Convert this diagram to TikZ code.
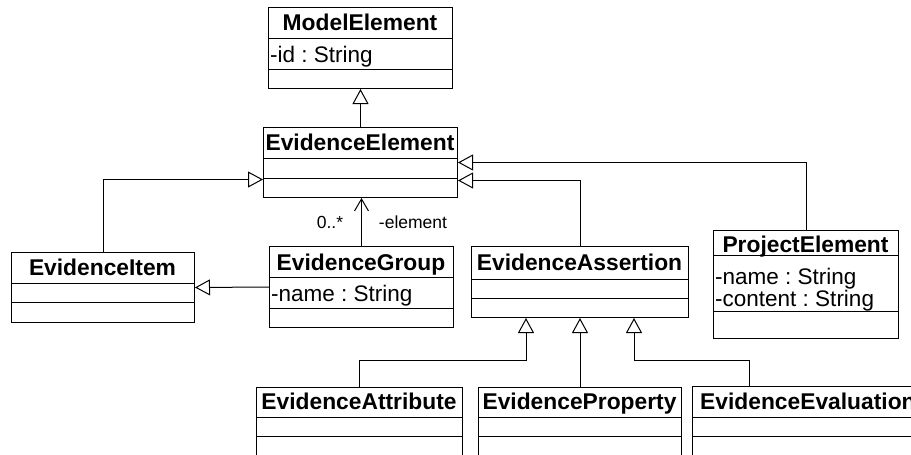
\documentclass[tikz,border=0pt]{standalone}
\usepackage{fontspec}
\setmainfont{Liberation Sans}
\usetikzlibrary{arrows.meta}
\frenchspacing
\begin{document}
\begin{tikzpicture}[x=1pt,y=-1pt,
  cls/.style={draw, line width=1pt, inner sep=0pt, anchor=north west},
  divl/.style={line width=1pt},
  ttl/.style={font=\fontsize{22.8}{27}\selectfont\bfseries, anchor=base, inner sep=0pt},
  att/.style={font=\fontsize{22.5}{27}\selectfont, anchor=base west, inner sep=0pt},
  lbl/.style={font=\fontsize{17.5}{21}\selectfont, anchor=base, inner sep=0pt},
  gen/.style={draw, line width=1pt, -{Triangle[open,length=15pt,width=16pt]}},
  assoc/.style={draw, line width=1pt, -{Straight Barb[length=12pt,width=14pt]}},
]
\useasboundingbox (0,0) rectangle (911,455);
\fill[white] (0,0) rectangle (911,455);
\clip (0,0) rectangle (911,455);

% ModelElement
\node[cls, minimum width=184pt, minimum height=81pt] (ME) at (268,7) {};
\draw[divl] (268,38) -- (452,38) (268,69) -- (452,69);
\node[ttl] (MEt) at (360,30.5) {ModelElement};
\node[att] (MEa) at (270,62.5) {-id : String};

% EvidenceElement
\node[cls, minimum width=194pt, minimum height=70pt] (EE) at (263,127) {};
\draw[divl] (263,158) -- (457,158) (263,178) -- (457,178);
\node[ttl] (EEt) at (360,150.5) {EvidenceElement};

% EvidenceItem
\node[cls, minimum width=183pt, minimum height=70pt] (EI) at (11,252) {};
\draw[divl] (11,283) -- (194,283) (11,302) -- (194,302);
\node[ttl] (EIt) at (102.5,275.5) {EvidenceItem};

% EvidenceGroup
\node[cls, minimum width=184pt, minimum height=81pt] (EG) at (269,246) {};
\draw[divl] (269,277) -- (453,277) (269,308) -- (453,308);
\node[ttl] (EGt) at (361,270) {EvidenceGroup};
\node[att] (EGa) at (271,301) {-name : String};

% EvidenceAssertion
\node[cls, minimum width=217pt, minimum height=71pt] (EA) at (471,246) {};
\draw[divl] (471,279) -- (688,279) (471,298) -- (688,298);
\node[ttl] (EAt0) at (579.5,270) {EvidenceAssertion};

% ProjectElement
\node[cls, minimum width=185pt, minimum height=108pt] (PE) at (713,230) {};
\draw[divl] (713,255) -- (898,255) (713,311) -- (898,311);
\node[ttl] (PEt) at (805.5,252) {ProjectElement};
\node[att] (PEa) at (715,284.5) {-name : String};
\node[att] (PEb) at (715,306) {-content : String};

% EvidenceAttribute
\node[cls, minimum width=206pt, minimum height=80pt] (EAt) at (256,387) {};
\draw[divl] (256,417) -- (462,417) (256,436) -- (462,436);
\node[ttl] (EAtt) at (359,409) {EvidenceAttribute};

% EvidenceProperty
\node[cls, minimum width=203pt, minimum height=80pt] (EP) at (478,387) {};
\draw[divl] (478,417) -- (681,417) (478,436) -- (681,436);
\node[ttl] (EPt) at (579.5,409) {EvidenceProperty};

% EvidenceEvaluation
\node[cls, minimum width=228pt, minimum height=80pt] (EEv) at (692,386) {};
\draw[divl] (692,417) -- (920,417) (692,436) -- (920,436);
\node[ttl, anchor=base west] (EEvt) at (700,409) {EvidenceEvaluation};

% connectors
\draw[gen] (EE.north) -- (ME.south);
\draw[gen] (EI.north) |- ([yshift=-17pt]EE.west);
\draw[gen] (PE.north) |- (EE.east);
\draw[gen] (EA.north) |- ([yshift=-18pt]EE.east);
\draw[assoc] (EG.north) -- (EG.north|-EE.south);
\draw[gen] (EG.west) -- (EI.east);
\draw[gen] (EAt.north) -- ++(0,-27) -| ([xshift=-54pt]EA.south);
\draw[gen] (EP.north) -- (EA.south);
\draw[gen] ([xshift=57pt]EEv.north west) -- ++(0,-26) -| ([xshift=54pt]EA.south);

% association labels
\node[lbl] (mult) at (330,228) {0..*};
\node[lbl] (role) at (413,228) {-element};
\end{tikzpicture}
\end{document}
